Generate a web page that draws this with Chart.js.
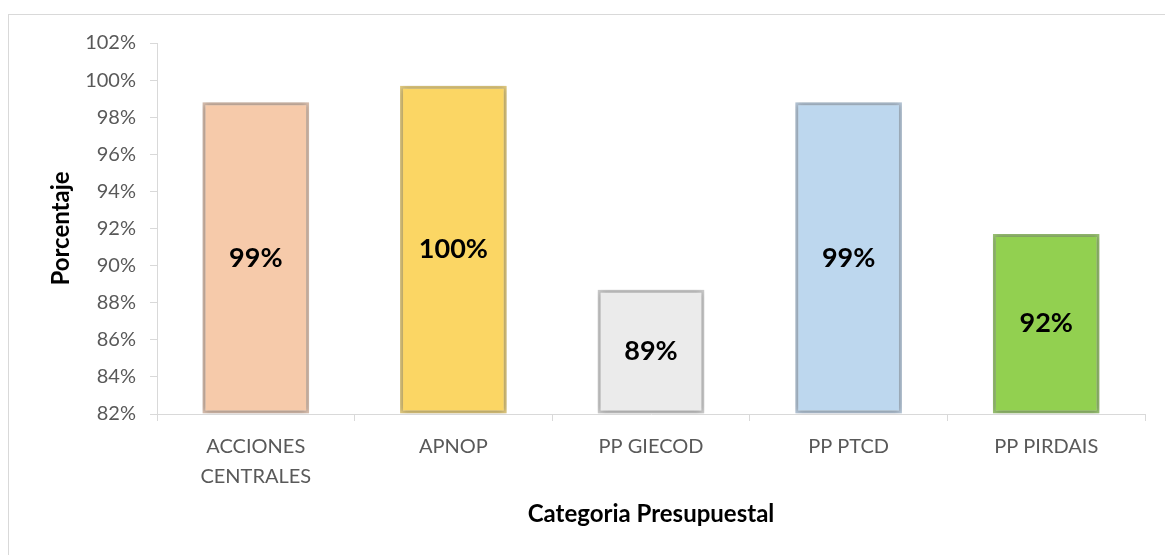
<!DOCTYPE html>
<html>
<head>
<meta charset="utf-8">
<script src="https://cdn.jsdelivr.net/npm/chart.js@4.4.1/dist/chart.umd.min.js"></script>
<style>
  html, body { margin: 0; padding: 0; background: #fff; overflow: hidden; }
  #frame { position: absolute; left: 8px; top: 14px; width: 1200px; height: 600px; border: 1px solid #d9d9d9; }
  #wrap { position: absolute; left: 0; top: 0; width: 1165px; height: 555px; }
</style>
</head>
<body>
<div id="frame"></div>
<div id="wrap"><canvas id="chart"></canvas></div>
<script>
  // categories and values (percent)
  var categories = [["ACCIONES", "CENTRALES"], "APNOP", "PP GIECOD", "PP PTCD", "PP PIRDAIS"];
  var values = [98.8, 99.7, 88.7, 98.8, 91.7];
  var barColors = ["#F6CAAA", "#FBD664", "#EBEBEB", "#BDD7EE", "#92D050"];
  var edgeColors = ["rgba(210,172,148,0.7)", "rgba(220,186,80,0.7)", "rgba(190,190,190,0.7)", "rgba(160,184,208,0.7)", "rgba(118,175,62,0.7)"];
  var yMin = 82, yMax = 102, yStep = 2;

  var fontFamily = "Lato, 'Open Sans', sans-serif";

  // soft blurred edge on bars
  var softEdge = {
    id: "softEdge",
    beforeDatasetsDraw: function (chart) {
      var ctx = chart.ctx;
      ctx.save();
      ctx.shadowColor = "rgba(0,0,0,0.35)";
      ctx.shadowBlur = 6;
    },
    afterDatasetsDraw: function (chart) {
      chart.ctx.restore();
    }
  };

  // percentage labels centred in each bar
  var barLabels = {
    id: "barLabels",
    afterDatasetsDraw: function (chart) {
      var ctx = chart.ctx;
      var meta = chart.getDatasetMeta(0);
      ctx.save();
      ctx.font = "bold 27px " + fontFamily;
      ctx.fillStyle = "#000";
      ctx.textAlign = "center";
      ctx.textBaseline = "middle";
      meta.data.forEach(function (bar, i) {
        ctx.fillText(Math.round(values[i]) + "%", bar.x, (bar.y + bar.base) / 2);
      });
      ctx.restore();
    }
  };

  new Chart(document.getElementById("chart"), {
    type: "bar",
    data: {
      labels: categories,
      datasets: [{
        data: values,
        base: yMin,
        backgroundColor: barColors,
        borderColor: edgeColors,
        borderWidth: 3,
        borderSkipped: false,
        categoryPercentage: 1,
        barPercentage: 0.54
      }]
    },
    options: {
      responsive: true,
      maintainAspectRatio: false,
      animation: false,
      layout: { padding: { left: 47, top: 43, right: 20, bottom: 26 } },
      plugins: { legend: { display: false }, tooltip: { enabled: false } },
      scales: {
        y: {
          min: yMin,
          max: yMax,
          ticks: {
            stepSize: yStep,
            padding: 14,
            color: "#595959",
            font: { family: fontFamily, size: 20 },
            callback: function (v) { return v + "%"; }
          },
          grid: { drawOnChartArea: false, drawTicks: true, tickLength: 7, color: "#d9d9d9" },
          border: { color: "#d9d9d9" },
          title: {
            display: true,
            text: "Porcentaje",
            color: "#000",
            font: { family: fontFamily, size: 24, weight: "bold" },
            padding: 0
          },
          afterFit: function (scale) { scale.width = 110; }
        },
        x: {
          ticks: {
            padding: 11,
            color: "#595959",
            font: { family: fontFamily, size: 20, lineHeight: 1.5 },
            maxRotation: 0
          },
          grid: { drawOnChartArea: false, drawTicks: true, tickLength: 7, color: "#d9d9d9", offset: true },
          border: { color: "#d9d9d9" },
          title: {
            display: true,
            text: "Categoria Presupuestal",
            color: "#000",
            font: { family: fontFamily, size: 24, weight: "bold" },
            padding: 0
          },
          afterFit: function (scale) { scale.height = 115; }
        }
      }
    },
    plugins: [softEdge, barLabels]
  });
</script>
</body>
</html>
